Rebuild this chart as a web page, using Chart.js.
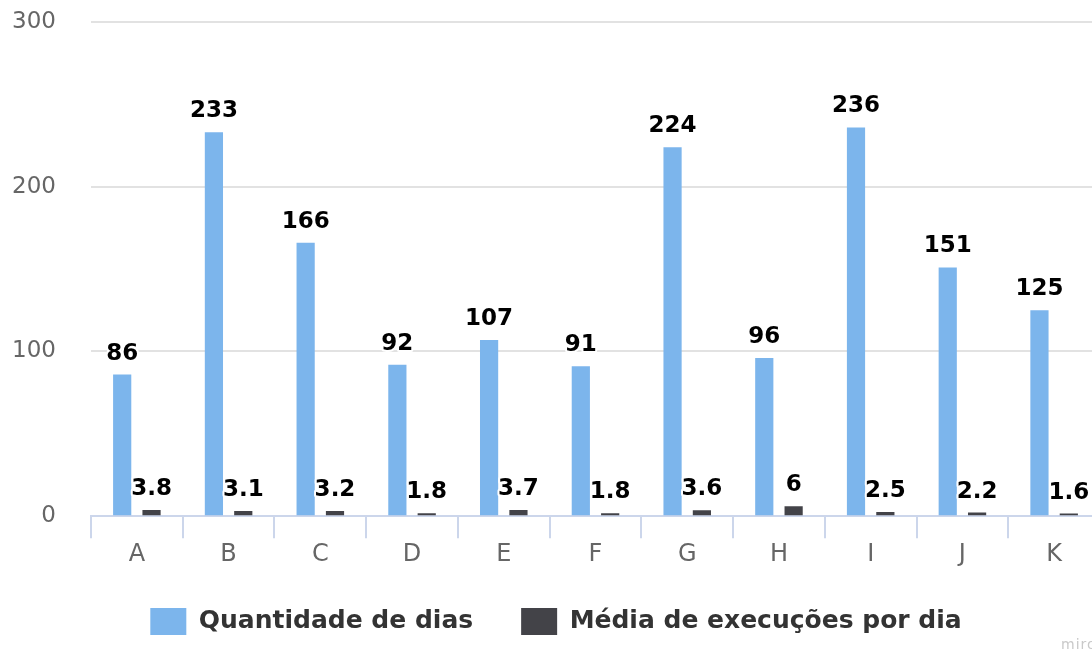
<!DOCTYPE html>
<html>
<head>
<meta charset="utf-8">
<script src="https://cdn.jsdelivr.net/npm/chart.js@4/dist/chart.umd.min.js"></script>
<style>
  html, body { margin: 0; padding: 0; background: #fff; overflow: hidden; }
  #wrap { position: relative; width: 1112px; height: 656px; }
  #mark { position: absolute; left: 1061px; top: 636px; font: 14px "DejaVu Sans", sans-serif; color: #c9c9c9; letter-spacing: 1px; }
</style>
</head>
<body>
<div id="wrap">
  <canvas id="chart-days" width="1112" height="656"></canvas>
  <div id="mark">miro</div>
</div>
<script>
/* dias x média de execuções */

const CATEGORIES = ['A', 'B', 'C', 'D', 'E', 'F', 'G', 'H', 'I', 'J', 'K'];
const DAYS       = [86, 233, 166, 92, 107, 91, 224, 96, 236, 151, 125];
const AVG_RUNS   = [3.8, 3.1, 3.2, 1.8, 3.7, 1.8, 3.6, 6, 2.5, 2.2, 1.6];
const Y_TICKS    = [0, 100, 200, 300];

const FONT = '"DejaVu Sans", sans-serif';

/* value labels above each bar, with a white halo like the original */
const valueLabels = {
  id: 'valueLabels',
  afterDatasetsDraw(chart) {
    const { ctx } = chart;
    ctx.save();
    ctx.font = `bold 23px ${FONT}`;
    ctx.textAlign = 'center';
    ctx.textBaseline = 'alphabetic';
    ctx.lineJoin = 'round';
    chart.data.datasets.forEach((ds, i) => {
      const meta = chart.getDatasetMeta(i);
      meta.data.forEach((bar, j) => {
        const txt = String(ds.data[j]);
        const y = bar.y - 15;
        ctx.lineWidth = 4;
        ctx.strokeStyle = '#ffffff';
        ctx.strokeText(txt, bar.x, y);
        ctx.fillStyle = '#000000';
        ctx.fillText(txt, bar.x, y);
      });
    });
    ctx.restore();
  },
};

/* legend sits a little closer to the axis labels than Chart.js puts it */
const legendLift = {
  id: 'legendLift',
  afterLayout(chart) {
    const lg = chart.legend;
    if (!lg) return;
    lg.top -= 11;
    lg.bottom -= 11;
  },
};

new Chart(document.getElementById('chart-days'), {
  type: 'bar',
  data: {
    labels: CATEGORIES,
    datasets: [{
      label: 'Quantidade de dias',
      data: DAYS,
      backgroundColor: '#7cb5ec',
      categoryPercentage: 0.64,
      barPercentage: 0.62,
    }, {
      label: 'Média de execuções por dia',
      data: AVG_RUNS,
      backgroundColor: '#434348',
      categoryPercentage: 0.64,
      barPercentage: 0.62,
    }],
  },
  options: {
    responsive: false,
    animation: false,
    layout: { padding: { top: 22, left: 12, right: 12, bottom: 0 } },
    scales: {
      x: {
        border: { color: '#ccd6eb', width: 2 },
        grid: { drawOnChartArea: false, color: '#ccd6eb', lineWidth: 2, tickLength: 22 },
        ticks: { color: '#666666', font: { size: 24, family: FONT }, padding: 2 },
      },
      y: {
        min: 0, max: 300,
        afterBuildTicks: axis => { axis.ticks = Y_TICKS.map(v => ({ value: v })); },
        border: { display: false },
        grid: { color: '#e2e2e2', lineWidth: 2, drawTicks: false },
        ticks: { color: '#666666', font: { size: 23, family: FONT }, padding: 35 },
        afterFit: axis => {
          axis.width = 79;
          axis.paddingTop = 0;
          axis.paddingBottom = 0;
        },
      },
    },
    plugins: {
      tooltip: { enabled: false },
      legend: {
        position: 'bottom',
        labels: {
          color: '#333333',
          font: { size: 25, weight: 'bold', family: FONT },
          boxWidth: 36,
          boxHeight: 27,
          padding: 48,
        },
      },
    },
  },
  plugins: [valueLabels, legendLift],
});
</script>
</body>
</html>
